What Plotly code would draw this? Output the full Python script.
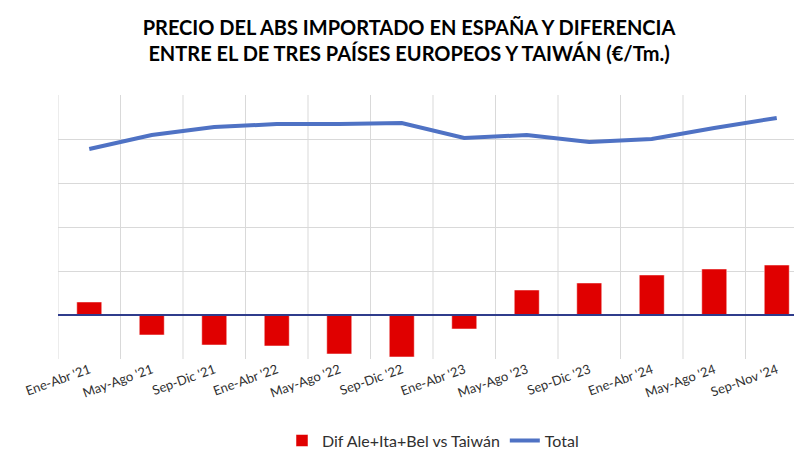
import plotly.graph_objects as go

periodos = ["Ene-Abr '21", "May-Ago '21", "Sep-Dic '21", "Ene-Abr '22", "May-Ago '22", "Sep-Dic '22",
            "Ene-Abr '23", "May-Ago '23", "Sep-Dic '23", "Ene-Abr '24", "May-Ago '24", "Sep-Nov '24"]
dif = [148, -227, -341, -352, -443, -477, -159, 284, 364, 455, 523, 568]
total = [1886, 2045, 2136, 2170, 2170, 2182, 2011, 2045, 1966, 2000, 2125, 2239]

x = list(range(len(periodos)))

fig = go.Figure()
fig.add_trace(go.Bar(x=x, y=dif, name="Dif Ale+Ita+Bel vs Taiwán",
                     marker_color="#E00000", width=0.4))
fig.add_trace(go.Scatter(x=x, y=total, name="Total", mode="lines",
                         line=dict(color="#4F72C4", width=4)))

# vertical grid between categories
for i in range(len(periodos) + 1):
    fig.add_shape(type="line", xref="x", yref="y", x0=i - 0.5, x1=i - 0.5,
                  y0=-500, y1=2500, line=dict(color="#D9D9D9", width=1), layer="below")
fig.add_shape(type="line", xref="x", yref="y", x0=-0.5, x1=11.5, y0=0, y1=0,
              line=dict(color="#2F3C8C", width=2))

fig.update_xaxes(tickvals=x, ticktext=periodos, tickangle=-20, range=[-0.5, 11.5],
                 showgrid=False, zeroline=False, tickfont=dict(size=13, color="#303030"))
fig.update_yaxes(range=[-500, 2500], dtick=500, showticklabels=False,
                 gridcolor="#D9D9D9", zeroline=False)
fig.update_layout(
    width=802, height=450,
    template="plotly_white",
    font=dict(family="Lato, Open Sans, sans-serif"),
    title=dict(text="<b>PRECIO DEL ABS IMPORTADO EN ESPAÑA Y DIFERENCIA<br>ENTRE EL DE TRES PAÍSES EUROPEOS Y TAIWÁN (€/Tm.)</b>",
               x=0.5, xanchor="center", y=0.94, yanchor="top", font=dict(size=20, color="#000000")),
    margin=dict(l=50, r=2, t=87, b=98),
    legend=dict(orientation="h", x=0.5, xanchor="center", y=-0.24, yanchor="top",
                font=dict(size=16, color="#303030")),
    plot_bgcolor="white", paper_bgcolor="white",
)
fig.write_html("out.html")
